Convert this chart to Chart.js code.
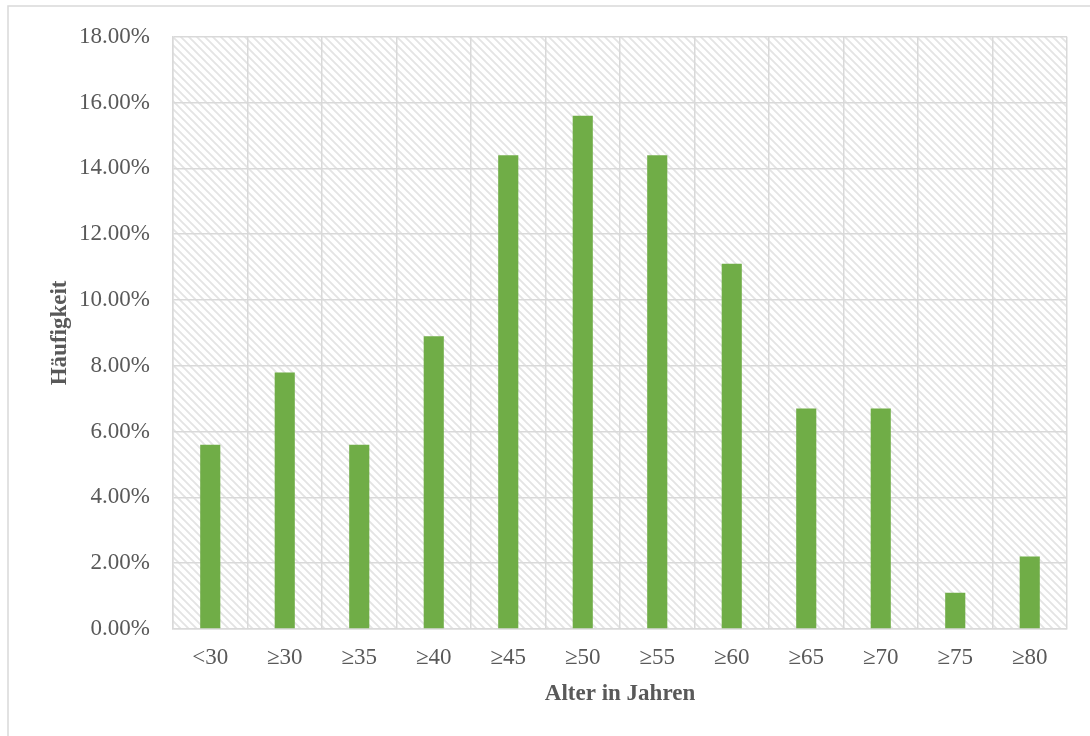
<!DOCTYPE html>
<html>
<head>
<meta charset="utf-8">
<script src="https://cdn.jsdelivr.net/npm/chart.js@4"></script>
<style>
  html, body { margin: 0; padding: 0; background: #fff; }
  #wrap { width: 1090px; height: 736px; position: relative; }
</style>
</head>
<body>
<div id="wrap"><canvas id="c" width="1090" height="736"></canvas></div>
<script>
// Age groups and their share of all cases (percent)
const ageGroups = ['<30', '≥30', '≥35', '≥40', '≥45', '≥50', '≥55', '≥60', '≥65', '≥70', '≥75', '≥80'];
const shares = [5.6, 7.8, 5.6, 8.9, 14.4, 15.6, 14.4, 11.1, 6.7, 6.7, 1.1, 2.2];
const yTicks = [0, 2, 4, 6, 8, 10, 12, 14, 16, 18];

const serif = "'Liberation Serif', 'Times New Roman', serif";
const gridColor = '#d9d9d9';

// Light diagonal hatch used as the plot-area background
function makeHatch() {
  const s = 8;
  const pc = document.createElement('canvas');
  pc.width = s; pc.height = s;
  const p = pc.getContext('2d');
  p.strokeStyle = '#e4e4e4';
  p.lineWidth = 1.9;
  p.beginPath();
  p.moveTo(-2, -2); p.lineTo(s + 2, s + 2);
  p.moveTo(-2, s - 2); p.lineTo(2, s + 2);
  p.moveTo(s - 2, -2); p.lineTo(s + 2, 2);
  p.stroke();
  return p.createPattern(pc, 'repeat');
}

const backdrop = {
  id: 'backdrop',
  beforeDraw(chart) {
    const { ctx, chartArea: a } = chart;
    ctx.save();
    ctx.fillStyle = '#fff';
    ctx.fillRect(0, 0, chart.width, chart.height);
    // frame around the whole figure
    ctx.strokeStyle = gridColor;
    ctx.lineWidth = 1.5;
    ctx.beginPath();
    ctx.moveTo(8, chart.height + 2);
    ctx.lineTo(8, 6);
    ctx.lineTo(chart.width + 2, 6);
    ctx.stroke();
    ctx.fillStyle = makeHatch();
    ctx.fillRect(a.left, a.top, a.right - a.left, a.bottom - a.top);
    ctx.restore();
  }
};

new Chart(document.getElementById('c'), {
  type: 'bar',
  data: {
    labels: ageGroups,
    datasets: [{
      data: shares,
      backgroundColor: '#70ad47',
      borderWidth: 0,
      barPercentage: 0.27,
      categoryPercentage: 1.0
    }]
  },
  options: {
    responsive: false,
    animation: false,
    layout: { padding: { top: 34, right: 23, bottom: 0, left: 0 } },
    plugins: { legend: { display: false }, tooltip: { enabled: false } },
    scales: {
      x: {
        afterFit(axis) { axis.height = 107; },
        grid: { color: gridColor, lineWidth: 1.5, drawTicks: false, offset: true },
        border: { color: gridColor, width: 1.5 },
        ticks: { color: '#595959', font: { family: serif, size: 23 }, padding: 15, maxRotation: 0 },
        title: {
          display: true, text: 'Alter in Jahren', color: '#595959',
          font: { family: serif, size: 23, weight: 'bold' },
          padding: { top: 0, bottom: 28 }
        }
      },
      y: {
        min: 0, max: 18,
        afterFit(axis) { axis.width = 173; },
        afterBuildTicks(axis) { axis.ticks = yTicks.map(v => ({ value: v })); },
        grid: { color: gridColor, lineWidth: 1.5, drawTicks: false },
        border: { color: gridColor, width: 1.5 },
        ticks: {
          color: '#595959', font: { family: serif, size: 23 }, padding: 23,
          callback: v => v.toFixed(2) + '%'
        },
        title: {
          display: true, text: 'Häufigkeit', color: '#595959',
          font: { family: serif, size: 23, weight: 'bold' },
          padding: { top: 46, bottom: 0 }
        }
      }
    }
  },
  plugins: [backdrop]
});
</script>
</body>
</html>
